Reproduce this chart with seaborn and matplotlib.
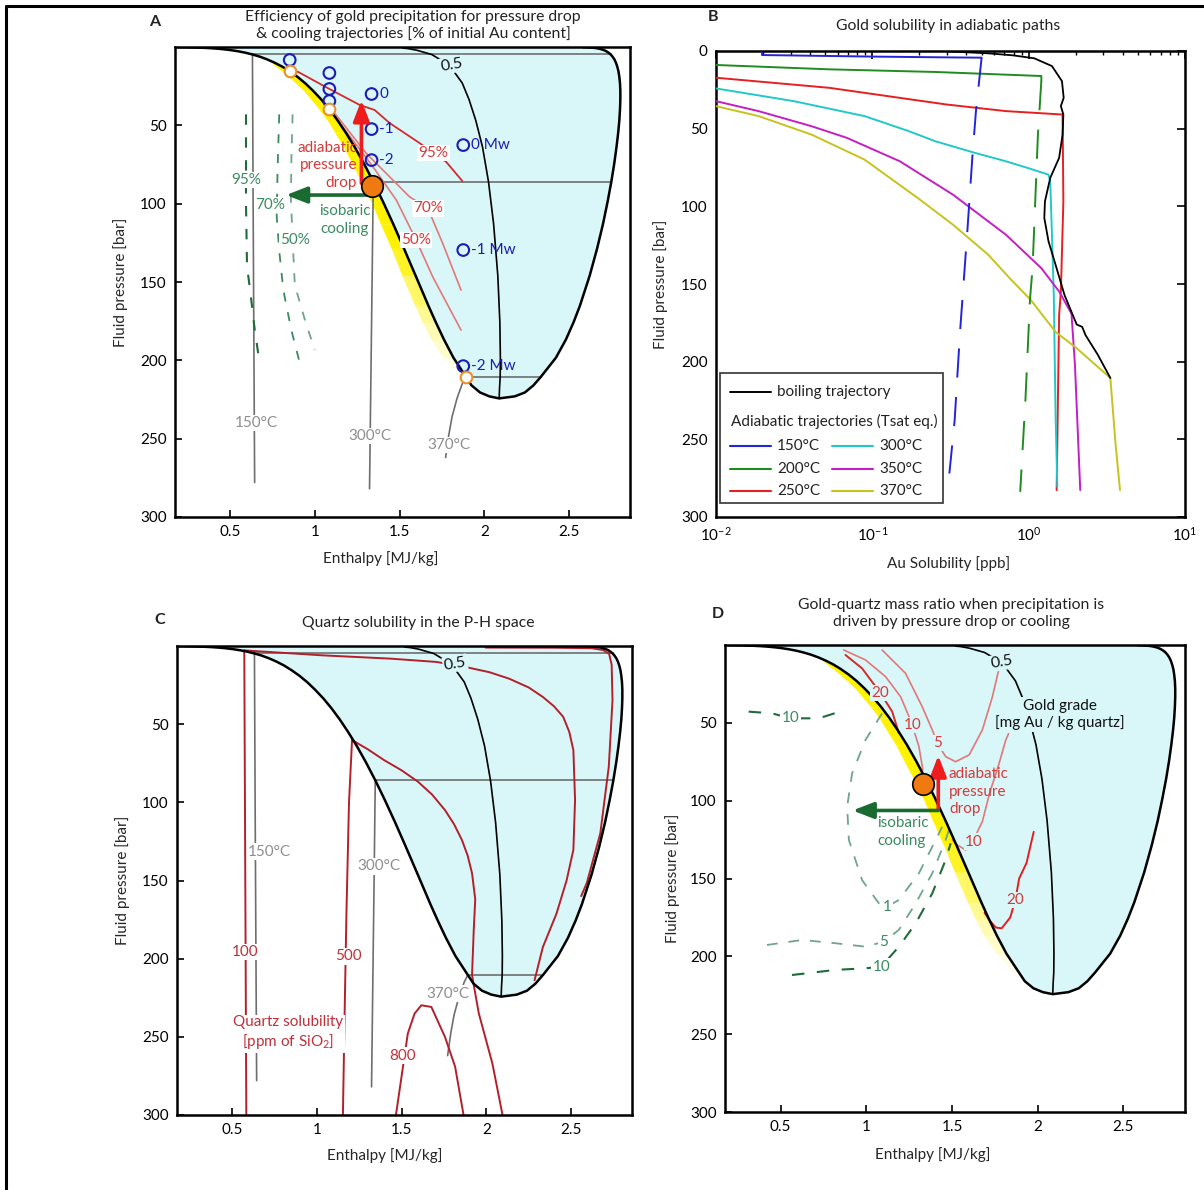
import matplotlib
matplotlib.use("Agg")
import matplotlib.pyplot as plt
from matplotlib.lines import Line2D
from matplotlib.patches import Rectangle
import seaborn as sns

# ---------------- water saturation (boiling) curve ----------------
SAT_P = [0.1, 0.1995, 0.5, 0.7018, 1.014, 1.434, 1.987, 2.703, 3.615, 4.762, 6.182, 7.922,
         10.03, 12.55, 15.55, 19.08, 23.20, 27.97, 33.47, 39.76, 46.92, 55.03, 64.17, 74.42,
         85.88, 98.65, 112.8, 128.6, 146.0, 165.3, 175.7, 186.7, 198.3, 210.4, 216.0, 220.5,
         223.0, 224.3]
SAT_HL = [0.192, 0.251, 0.340, 0.377, 0.419, 0.461, 0.504, 0.546, 0.589, 0.632, 0.676, 0.719,
          0.763, 0.808, 0.852, 0.898, 0.944, 0.990, 1.038, 1.086, 1.135, 1.185, 1.237, 1.290,
          1.345, 1.402, 1.462, 1.526, 1.595, 1.671, 1.714, 1.762, 1.818, 1.891, 1.925, 1.975,
          2.030, 2.088]
SAT_HV = [2.584, 2.609, 2.645, 2.660, 2.676, 2.691, 2.706, 2.720, 2.733, 2.746, 2.757, 2.768,
          2.777, 2.785, 2.792, 2.797, 2.801, 2.803, 2.803, 2.801, 2.797, 2.790, 2.780, 2.767,
          2.750, 2.728, 2.701, 2.666, 2.622, 2.564, 2.527, 2.482, 2.423, 2.335, 2.290, 2.240,
          2.180, 2.088]

# vapour fraction 0.5 isopleth
Q05_P = [0.7, 1.0, 2.0, 4.8, 10.0, 15.5, 23.0, 33.5, 46.9, 64.0, 86.0, 112.8, 146.0, 175.7,
         198.0, 210.4, 218.0, 224.3]
Q05_H = [1.52, 1.55, 1.60, 1.69, 1.77, 1.82, 1.87, 1.91, 1.95, 1.99, 2.025, 2.055, 2.08, 2.092,
         2.095, 2.094, 2.09, 2.088]

# tie lines (150, 300, 370 degC)
TIE_P = [4.762, 85.88, 210.4]
TIE_HL = [0.632, 1.345, 1.891]
TIE_HV = [2.746, 2.750, 2.335]

# compressed-liquid isotherms
ISO150_H = [0.632, 0.636, 0.641, 0.645]
ISO150_P = [4.76, 100, 200, 278]
ISO300_H = [1.345, 1.338, 1.330, 1.323]
ISO300_P = [85.88, 150, 220, 282]
ISO370_H = [1.891, 1.870, 1.840, 1.810, 1.790, 1.772]
ISO370_P = [210.4, 215, 224, 236, 248, 262]

# yellow band on the liquid side of the boiling curve
BAND_P = SAT_P[12:34]
BAND_R = SAT_HL[12:34]
BAND_L = [0.743, 0.773, 0.807, 0.848, 0.889, 0.935, 0.978, 1.026, 1.075, 1.120, 1.172, 1.220,
          1.275, 1.332, 1.387, 1.451, 1.515, 1.591, 1.634, 1.687, 1.758, 1.861]
BAND_ALPHA = [1, 1, 1, 1, 1, 1, 1, 1, 1, 1, 1, 1, 1, 1, 1, 0.85, 0.6, 0.42, 0.3, 0.2, 0.1]

# ---------------- panel A: precipitation efficiency ----------------
A_EFF95_H = [0.86, 0.90, 1.076, 1.265, 1.353, 1.441, 1.618, 1.776, 1.871]
A_EFF95_P = [15.5, 15.8, 26.2, 37.0, 40.2, 48.5, 61.3, 73.4, 85.6]
A_EFF70_H = [1.088, 1.304, 1.441, 1.559, 1.667, 1.755, 1.863]
A_EFF70_P = [38.2, 67.9, 82.8, 95.6, 103.0, 125.4, 155.2]
A_EFF50_H = [1.088, 1.343, 1.481, 1.598, 1.696, 1.863]
A_EFF50_P = [40.2, 76.4, 97.7, 123.2, 146.7, 180.7]
A_COOL95_H = [0.594, 0.594, 0.600, 0.618, 0.645, 0.676]
A_COOL95_P = [43, 100, 140, 155, 180, 203]
A_COOL70_H = [0.79, 0.78, 0.775, 0.79, 0.814, 0.86, 0.912]
A_COOL70_P = [43, 80, 108, 130, 155, 180, 202]
A_COOL50_H = [0.869, 0.862, 0.859, 0.868, 0.882, 0.941, 1.0]
A_COOL50_P = [43, 70, 97.7, 120, 152, 174, 193.5]
A_STRESS_H = [0.852, 1.086, 1.086, 1.086, 1.335, 1.335, 1.335, 1.876, 1.876, 1.876]
A_STRESS_P = [8.3, 16.6, 26.8, 34.5, 30.0, 52.4, 72.2, 62.6, 129.6, 203.7]
A_STRESS_LBL = ["", "", "", "", "0", "-1", "-2", "0 Mw", "-1 Mw", "-2 Mw"]
A_RING_H = [0.852, 1.086, 1.891]
A_RING_P = [15.55, 39.76, 210.4]
A_START_H = [1.34]
A_START_P = [88.5]

# ---------------- panel B: Au solubility ----------------
B_BOIL_AU = [0.296, 0.552, 0.794, 1.086, 1.409, 1.633, 1.675, 1.607, 1.667, 1.648, 1.566, 1.374,
             1.271, 1.259, 1.340, 1.486, 1.694, 1.879, 2.03, 2.20, 2.31, 2.77, 3.33]
B_BOIL_P = [0.2, 1.5, 2.8, 4.7, 9.7, 19.4, 30.1, 35.5, 40.9, 53.8, 68.8, 81.7, 96.8, 107.5,
            122.6, 137.6, 157, 168, 176.1, 177.6, 182.9, 195.6, 210.5]
B150_AU = [0.0197, 0.0197, 0.1, 0.3, 0.5]
B150_P = [0.8, 2.6, 3.6, 4.1, 4.3]
B150_DASH_AU = [0.5, 0.46, 0.436, 0.404, 0.364, 0.336, 0.311]
B150_DASH_P = [4.3, 38.7, 68.8, 118, 180.8, 238, 272]
B200_AU = [0.01, 0.053, 0.253, 1.205, 1.205]
B200_P = [9.0, 11.8, 13.5, 16.1, 19.4]
B200_DASH_AU = [1.205, 1.146, 1.059, 1.02, 0.955, 0.883]
B200_DASH_P = [19.4, 53.8, 139.8, 159.6, 223, 283.8]
B250_AU = [0.01, 0.053, 0.296, 0.716, 1.648, 1.667, 1.607, 1.566, 1.510]
B250_P = [17.2, 23.7, 34.4, 38.7, 40.9, 96.8, 154.8, 170, 282.7]
B300_AU = [0.01, 0.0315, 0.0891, 0.17, 0.253, 0.45, 0.716, 1.0, 1.340, 1.374, 1.409, 1.448,
           1.486, 1.525]
B300_P = [24.1, 32.3, 41.9, 51.5, 58.1, 65.5, 71, 75.5, 79.6, 83.9, 118.3, 157, 233.9, 280.6]
B350_AU = [0.01, 0.0187, 0.0408, 0.0687, 0.150, 0.328, 0.716, 1.205, 1.566, 1.879, 1.977, 2.138]
B350_P = [32.3, 38.7, 48.4, 55.9, 71, 92.5, 118.3, 139.8, 154.8, 169.1, 202, 282.7]
B370_AU = [0.01, 0.0187, 0.0408, 0.0891, 0.195, 0.328, 0.552, 0.755, 1.03, 1.486, 2.03, 3.33,
           3.61, 3.84]
B370_P = [35.5, 41.9, 53.8, 69.9, 94.6, 111.8, 131.2, 146.2, 160.2, 180.8, 191.4, 210.5, 255,
          282.7]
B_LABELS = ["150°C", "200°C", "250°C", "300°C", "350°C", "370°C"]

# ---------------- panel C: quartz solubility ----------------
C_Q100_LIQ_H = [0.572, 0.578, 0.584]
C_Q100_LIQ_P = [2.8, 150, 300]
C_Q100_2PH_H = [0.572, 1.038, 1.437, 1.706, 1.876, 2.02, 2.135, 2.25, 2.334, 2.40, 2.454, 2.49,
                2.514, 2.524, 2.514, 2.474, 2.414, 2.334, 2.285]
C_Q100_2PH_P = [2.8, 6.0, 8.1, 10.2, 13.4, 16.8, 20.9, 26.5, 32.6, 38.6, 45.3, 55.0, 66.6, 98.5,
                130.4, 150, 171.3, 192.6, 213.8]
C_Q500_LIQ_H = [1.208, 1.19, 1.175, 1.165, 1.154]
C_Q500_LIQ_P = [60.2, 100, 170, 230, 300]
C_Q500_2PH_H = [1.208, 1.30, 1.397, 1.50, 1.597, 1.68, 1.756, 1.81, 1.856, 1.89, 1.916, 1.935,
                1.926, 1.916, 1.956, 2.036, 2.096]
C_Q500_2PH_P = [60.2, 66.0, 73, 79.5, 86.8, 95.0, 104.9, 114.0, 124, 134.0, 145.3, 162, 182,
                210.6, 235, 267, 300]
C_Q800_H = [1.467, 1.497, 1.537, 1.577, 1.617, 1.676, 1.756, 1.816, 1.866]
C_Q800_P = [300, 277.7, 247.9, 235.1, 229.8, 230.9, 250, 269, 300]
C_QVAP_H = [1.996, 2.4, 2.62, 2.69, 2.725, 2.74, 2.745, 2.723, 2.673, 2.593, 2.56]
C_QVAP_P = [1.0, 1.1, 1.4, 2.6, 5, 12, 34.7, 77.2, 119.8, 151.7, 160]

# ---------------- panel D: gold grade ----------------
D_R20A_H = [0.878, 0.975, 1.083, 1.151, 1.19]
D_R20A_P = [6.4, 15.0, 31.0, 42.8, 56.7]
D_R10A_H = [0.868, 0.995, 1.112, 1.2, 1.249, 1.268, 1.307, 1.33]
D_R10A_P = [3.2, 9.6, 20.3, 33.2, 46.0, 51.4, 65.3, 80.3]
D_R5_H = [1.092, 1.229, 1.326, 1.385, 1.414, 1.463, 1.521, 1.6, 1.677, 1.736, 1.775]
D_R5_P = [3.2, 18.2, 39.6, 54.6, 63.1, 71.7, 75.0, 70.6, 54.6, 33.2, 14.8]
D_R10B_H = [1.83, 1.814, 1.775, 1.72, 1.677, 1.648, 1.629, 1.58, 1.531, 1.502]
D_R10B_P = [57, 61, 76, 95, 113.5, 120, 126.3, 131.7, 128.5, 125.2]
D_R20B_H = [1.977, 1.935, 1.892, 1.87, 1.84, 1.79, 1.756, 1.72, 1.69]
D_R20B_P = [120, 140, 150, 163.8, 175, 182, 181.5, 177, 172]
D_G10A_H = [0.313, 0.449, 0.557, 0.722, 0.878]
D_G10A_P = [42.8, 43.9, 47.1, 47.1, 41.7]
D_G1_H = [1.092, 0.995, 0.917, 0.888, 0.898, 0.975, 1.073, 1.122, 1.19, 1.307, 1.405, 1.443]
D_G1_P = [43.9, 61, 82.4, 103.9, 125.2, 151, 165.9, 168, 163.8, 146.6, 125.2, 116.7]
D_G5_H = [0.42, 0.625, 0.82, 0.995, 1.102, 1.19, 1.288, 1.385, 1.463, 1.482]
D_G5_P = [192.7, 189.5, 191.6, 193.8, 190.6, 183, 166, 146.6, 125.2, 118.8]
D_G10B_H = [0.566, 0.82, 0.995, 1.087, 1.19, 1.288, 1.385, 1.463, 1.492]
D_G10B_P = [212, 208.7, 207.7, 206.6, 193.8, 178.8, 159.5, 138, 127.4]
D_START_H = [1.33]
D_START_P = [89.0]

# ---------------- colours ----------------
CYAN = "#D9F6F9"
YELLOW = "#FFF200"
GRAY = "#6E6E6E"
GRAY_TXT = "#8E8E8E"
BLUE_M = "#1C1CB4"
ORANGE = "#F07A10"
RING = "#E8902A"
RED_D = "#D42A2A"
RED_L = "#E27878"
RED_T = "#D43A3A"
GREEN_D = "#1F6B3C"
GREEN_M = "#3E8A60"
GREEN_L = "#6FA58A"
GREEN_T = "#3A8A62"
ARROW_R = "#EE1C1C"
ARROW_G = "#1A6B30"
QZ = "#B3202A"
B_COLORS = ["#2323D8", "#1E8C1E", "#E62020", "#22C8C8", "#C41EC4", "#C8C21E"]

FS = 11

sns.set_theme(style="white")
plt.rcParams["font.family"] = ["Lato", "DejaVu Sans"]
plt.rcParams["mathtext.default"] = "regular"
plt.rcParams["axes.edgecolor"] = "black"
plt.rcParams["xtick.color"] = "black"
plt.rcParams["ytick.color"] = "black"
plt.rcParams["text.color"] = "#222222"

W, H = 1204, 1190
fig = plt.figure(figsize=(W / 100, H / 100), dpi=100)


def fx(px):
    return px / W


def fy(py):
    return 1 - py / H


def axes_at(left, top, right, bottom):
    return fig.add_axes([fx(left), fy(bottom), (right - left) / W, (bottom - top) / H])


def curve(ax, x, y, color, lw=1.2, ls="-", z=2):
    sns.lineplot(x=list(x), y=list(y), ax=ax, sort=False, estimator=None, color=color,
                 linewidth=lw, linestyle=ls, zorder=z)


def tag(ax, x, y, s, color, bg="white", size=FS, rot=0, ha="center", pad=0.08, z=6):
    ax.text(x, y, s, color=color, fontsize=size, ha=ha, va="center", rotation=rot, zorder=z,
            bbox=dict(boxstyle=f"square,pad={pad}", fc=bg, ec="none") if bg else None)


def ph_axes(ax):
    ax.set_xlim(0.175, 2.86)
    ax.set_ylim(300, 0)
    ax.set_xticks([0.5, 1, 1.5, 2, 2.5])
    ax.set_xticklabels(["0.5", "1", "1.5", "2", "2.5"])
    ax.set_yticks([50, 100, 150, 200, 250, 300])
    ax.tick_params(direction="in", length=5, width=1.2, labelsize=FS, pad=6,
                   left=True, bottom=True)
    for s in ax.spines.values():
        s.set_linewidth(1.8)
        s.set_zorder(10)
    ax.set_xlabel("Enthalpy [MJ/kg]", fontsize=FS)
    ax.set_ylabel("Fluid pressure [bar]", fontsize=FS)


def draw_dome(ax, label_xy, ties=True):
    ax.fill_betweenx(SAT_P, SAT_HL, SAT_HV, color=CYAN, lw=0, zorder=0.5)
    if ties:
        for p, hl, hv in zip(TIE_P, TIE_HL, TIE_HV):
            curve(ax, [hl, hv], [p, p], GRAY, lw=1.2, z=1.8)
    curve(ax, SAT_HL + SAT_HV[::-1], SAT_P + SAT_P[::-1], "black", lw=1.8, z=4)
    curve(ax, Q05_H, Q05_P, "black", lw=1.2, z=2.5)
    tag(ax, label_xy[0], label_xy[1], "0.5", "#111111", bg=CYAN, size=11.5, rot=10)


def draw_band(ax):
    for i in range(len(BAND_P) - 1):
        ax.fill_betweenx(BAND_P[i:i + 2], BAND_L[i:i + 2], BAND_R[i:i + 2], color=YELLOW,
                         alpha=BAND_ALPHA[i], lw=0, zorder=1)


def draw_isotherms(ax, pos150, pos300, pos370):
    curve(ax, ISO150_H, ISO150_P, GRAY, lw=1.2, z=1.8)
    curve(ax, ISO300_H, ISO300_P, GRAY, lw=1.2, z=1.8)
    curve(ax, ISO370_H, ISO370_P, GRAY, lw=1.2, z=1.8)
    tag(ax, *pos150, "150°C", GRAY_TXT)
    tag(ax, *pos300, "300°C", GRAY_TXT)
    tag(ax, *pos370, "370°C", GRAY_TXT)


def arrow(ax, start, end, color):
    ax.annotate("", xy=end, xytext=start, zorder=8,
                arrowprops=dict(arrowstyle="-|>,head_length=0.9,head_width=0.35", color=color,
                                lw=2.6, shrinkA=0, shrinkB=0, mutation_scale=14))


# ======================= A =======================
axA = axes_at(175, 47, 630, 517)
ph_axes(axA)
draw_dome(axA, (1.806, 11.5))
draw_band(axA)
draw_isotherms(axA, (0.653, 240), (1.324, 248.4), (1.794, 254))
curve(axA, A_EFF95_H, A_EFF95_P, RED_D, lw=1.3, z=3)
curve(axA, A_EFF70_H, A_EFF70_P, RED_L, lw=1.2, z=3)
curve(axA, A_EFF50_H, A_EFF50_P, RED_L, lw=1.2, z=3)
tag(axA, 1.70, 67.5, "95%", RED_T)
tag(axA, 1.667, 103.0, "70%", RED_T)
tag(axA, 1.598, 123.2, "50%", RED_T)
curve(axA, A_COOL95_H, A_COOL95_P, GREEN_D, lw=1.5, ls=(0, (5, 6)), z=3)
curve(axA, A_COOL70_H, A_COOL70_P, GREEN_M, lw=1.3, ls=(0, (5, 6)), z=3)
curve(axA, A_COOL50_H, A_COOL50_P, GREEN_L, lw=1.3, ls=(0, (5, 6)), z=3)
tag(axA, 0.598, 85, "95%", GREEN_T)
tag(axA, 0.735, 101, "70%", GREEN_T)
tag(axA, 0.882, 123.2, "50%", GREEN_T)
sns.scatterplot(x=A_STRESS_H, y=A_STRESS_P, ax=axA, s=70, color=BLUE_M, facecolor="none",
                edgecolor=BLUE_M, linewidth=1.5, zorder=7)
for h, p, s in zip(A_STRESS_H, A_STRESS_P, A_STRESS_LBL):
    if s:
        axA.text(h + 0.045, p, s, color=BLUE_M, fontsize=FS, ha="left", va="center", zorder=7)
sns.scatterplot(x=A_RING_H, y=A_RING_P, ax=axA, s=70, color=RING, facecolor="white",
                edgecolor=RING, linewidth=1.5, zorder=7)
arrow(axA, (1.275, 87), (1.275, 34), ARROW_R)
arrow(axA, (1.335, 94.5), (0.83, 94.5), ARROW_G)
sns.scatterplot(x=A_START_H, y=A_START_P, ax=axA, s=240, color=ORANGE, edgecolor="black",
                linewidth=1.2, zorder=9)
axA.text(1.25, 75.5, "adiabatic\npressure\ndrop", color=RED_T, fontsize=FS, ha="right",
         va="center", multialignment="right", linespacing=1.3, zorder=6)
axA.text(1.176, 110.5, "isobaric\ncooling", color=GREEN_T, fontsize=FS, ha="center",
         va="center", linespacing=1.3, zorder=6)

# ======================= B =======================
axB = axes_at(716, 51, 1185, 517)
axB.set_xscale("log")
curve(axB, B_BOIL_AU, B_BOIL_P, "black", lw=1.3, z=4)
solid_sets = [(B150_AU, B150_P), (B200_AU, B200_P), (B250_AU, B250_P), (B300_AU, B300_P),
              (B350_AU, B350_P), (B370_AU, B370_P)]
for (au, p), c in zip(solid_sets, B_COLORS):
    curve(axB, au, p, c, lw=1.4, z=3)
curve(axB, B150_DASH_AU, B150_DASH_P, B_COLORS[0], lw=1.4, ls=(0, (15, 10)), z=3)
curve(axB, B200_DASH_AU, B200_DASH_P, B_COLORS[1], lw=1.4, ls=(0, (15, 10)), z=3)
axB.set_xlim(0.01, 10)
axB.set_ylim(300, 0)
axB.set_yticks([0, 50, 100, 150, 200, 250, 300])
axB.tick_params(which="both", direction="in", top=True, right=True, labelsize=FS)
axB.tick_params(which="major", length=6, width=1.2, pad=6)
axB.tick_params(which="minor", length=3, width=1.0)
for s in axB.spines.values():
    s.set_linewidth(1.8)
axB.set_xlabel("Au Solubility [ppb]", fontsize=FS)
axB.set_ylabel("Fluid pressure [bar]", fontsize=FS)

# legend block
tr = axB.transAxes
axB.add_patch(Rectangle((0.009, 0.031), 0.476, 0.277, transform=tr, fc="white", ec="#333333",
                        lw=1.2, zorder=6))
axB.add_line(Line2D([0.0294, 0.1164], [0.2689, 0.2689], transform=tr, color="black", lw=1.4,
                    zorder=7))
axB.text(0.1301, 0.2689, "boiling trajectory", transform=tr, fontsize=FS, va="center", zorder=7)
axB.text(0.0315, 0.2045, "Adiabatic trajectories (Tsat eq.)", transform=tr, fontsize=FS,
         va="center", zorder=7)
rows = [0.1524, 0.1024, 0.0558]
for i, (lbl, c) in enumerate(zip(B_LABELS, B_COLORS)):
    col, row = divmod(i, 3)
    x0 = [0.0294, 0.2468][col]
    axB.add_line(Line2D([x0, x0 + 0.087], [rows[row]] * 2, transform=tr, color=c, lw=1.5,
                        zorder=7))
    axB.text(x0 + 0.1005, rows[row], lbl, transform=tr, fontsize=FS, va="center", zorder=7)

# ======================= C =======================
axC = axes_at(177, 646, 632, 1115)
ph_axes(axC)
draw_dome(axC, (1.816, 11.3))
draw_isotherms(axC, (0.72, 131.5), (1.367, 141), (1.776, 222.3))
for h, p in [(C_Q100_LIQ_H, C_Q100_LIQ_P), (C_Q100_2PH_H, C_Q100_2PH_P),
             (C_Q500_LIQ_H, C_Q500_LIQ_P), (C_Q500_2PH_H, C_Q500_2PH_P),
             (C_Q800_H, C_Q800_P), (C_QVAP_H, C_QVAP_P)]:
    curve(axC, h, p, QZ, lw=1.4, z=3)
tag(axC, 0.577, 195.7, "100", "#C0303A")
tag(axC, 1.188, 198.5, "500", "#C0303A")
tag(axC, 1.507, 262, "800", "#C0303A")
tag(axC, 0.83, 247.5, "Quartz solubility\n[ppm of SiO$_2$]", "#C0303A", pad=0.15)

# ======================= D =======================
axD = axes_at(725, 645, 1185, 1112)
ph_axes(axD)
draw_dome(axD, (1.79, 11.0), ties=False)
draw_band(axD)
curve(axD, D_R20A_H, D_R20A_P, RED_D, lw=1.4, z=3)
curve(axD, D_R10A_H, D_R10A_P, RED_L, lw=1.2, z=3)
curve(axD, D_R5_H, D_R5_P, RED_L, lw=1.2, z=3)
curve(axD, D_R10B_H, D_R10B_P, RED_L, lw=1.2, z=3)
curve(axD, D_R20B_H, D_R20B_P, "#E02020", lw=1.4, z=3)
tag(axD, 1.083, 31.0, "20", RED_T, bg=CYAN)
tag(axD, 1.268, 51.4, "10", RED_T, bg=CYAN)
tag(axD, 1.414, 63.1, "5", RED_T, bg=CYAN)
tag(axD, 1.629, 126.3, "10", RED_T, bg=CYAN)
tag(axD, 1.87, 163.8, "20", RED_T, bg=CYAN)
curve(axD, D_G10A_H, D_G10A_P, GREEN_D, lw=1.5, ls=(0, (6, 6)), z=3)
curve(axD, D_G1_H, D_G1_P, GREEN_L, lw=1.3, ls=(0, (6, 6)), z=3)
curve(axD, D_G5_H, D_G5_P, GREEN_L, lw=1.3, ls=(0, (6, 6)), z=3)
curve(axD, D_G10B_H, D_G10B_P, GREEN_D, lw=1.5, ls=(0, (6, 6)), z=3)
tag(axD, 0.557, 47.1, "10", GREEN_T)
tag(axD, 1.122, 168, "1", GREEN_T)
tag(axD, 1.102, 190.6, "5", GREEN_T)
tag(axD, 1.087, 206.6, "10", GREEN_T)
arrow(axD, (1.42, 105.5), (1.42, 71), ARROW_R)
arrow(axD, (1.42, 106.3), (0.92, 106.3), ARROW_G)
sns.scatterplot(x=D_START_H, y=D_START_P, ax=axD, s=240, color=ORANGE, edgecolor="black",
                linewidth=1.2, zorder=9)
axD.text(1.482, 94.2, "adiabatic\npressure\ndrop", color=RED_T, fontsize=FS, ha="left",
         va="center", linespacing=1.3, zorder=6)
axD.text(1.063, 120.2, "isobaric\ncooling", color=GREEN_T, fontsize=FS, ha="left",
         va="center", linespacing=1.3, zorder=6)
tag(axD, 2.13, 44.5, "Gold grade\n[mg Au / kg quartz]", "#111111", bg=CYAN, pad=0.12)

# axis-label placement
for ax, lx, ly, xx, xy in [(axA, -0.103, 0.5, 0.453, -0.072), (axB, -0.102, 0.5, 0.495, -0.084),
                           (axC, -0.103, 0.5, 0.457, -0.070), (axD, -0.098, 0.5, 0.452, -0.075)]:
    ax.yaxis.set_label_coords(lx, ly)
    ax.xaxis.set_label_coords(xx, xy)

# titles and panel letters
TS = 11.3
fig.text(fx(413), fy(25.5), "Efficiency of gold precipitation for pressure drop\n"
         "& cooling trajectories [% of initial Au content]", ha="center", va="center",
         fontsize=TS, linespacing=1.25)
fig.text(fx(948), fy(26), "Gold solubility in adiabatic paths", ha="center", va="center",
         fontsize=TS)
fig.text(fx(418), fy(623), "Quartz solubility in the P-H space", ha="center", va="center",
         fontsize=TS)
fig.text(fx(951), fy(613.5), "Gold-quartz mass ratio when precipitation is\n"
         "driven by pressure drop or cooling", ha="center", va="center", fontsize=TS,
         linespacing=1.25)
for letter, px, py in [("A", 155, 22), ("B", 713, 17), ("C", 160, 620), ("D", 718, 614)]:
    fig.text(fx(px), fy(py), letter, ha="center", va="center", fontsize=11.5, fontweight="bold")

# page frame (top and left edges)
fig.add_artist(Line2D([fx(6), 1.0], [fy(6), fy(6)], color="black", lw=2.2))
fig.add_artist(Line2D([fx(6), fx(6)], [fy(6), 0.0], color="black", lw=2.2))

fig.savefig("out.png", dpi=100)
